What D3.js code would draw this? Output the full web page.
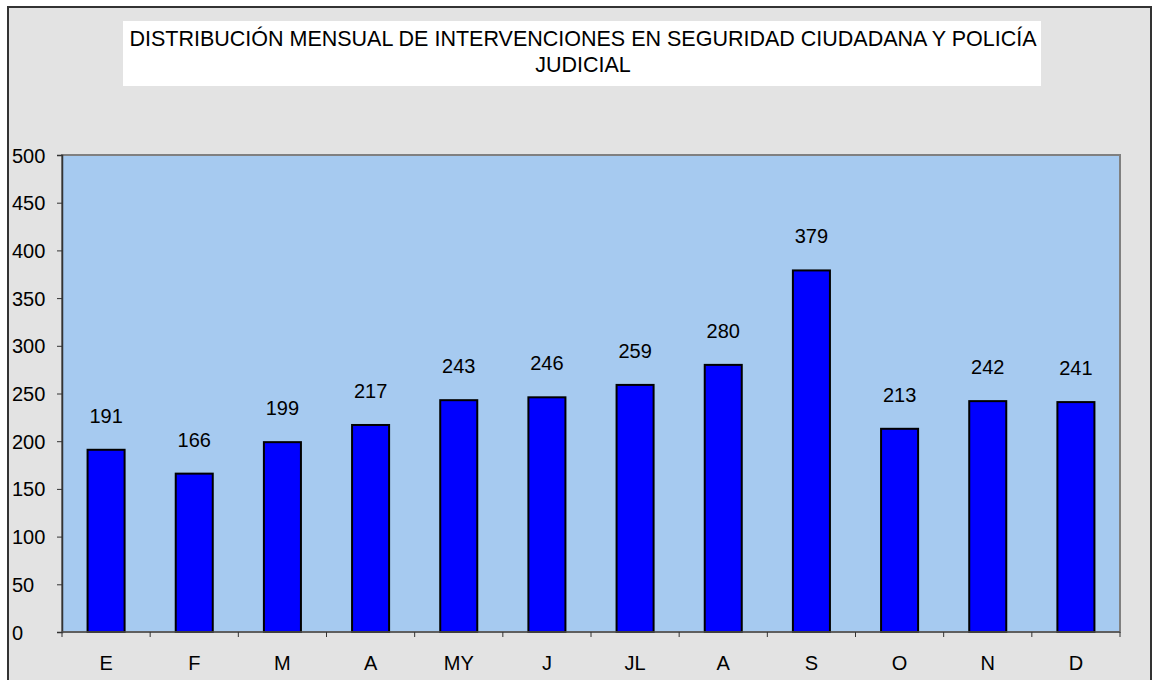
<!DOCTYPE html>
<html>
<head>
<meta charset="utf-8">
<script src="https://cdn.jsdelivr.net/npm/d3@7"></script>
<style>
  body { margin: 0; background: #fff; }
  svg { display: block; }
  text { font-family: "Liberation Sans", Arial, sans-serif; fill: #000; }
</style>
</head>
<body>
<svg id="chart"></svg>
<script>
// monthly data
let months = ["E", "F", "M", "A", "MY", "J", "JL", "A", "S", "O", "N", "D"]
let values = [191, 166, 199, 217, 243, 246, 259, 280, 379, 213, 242, 241]
let yTicks = [0, 50, 100, 150, 200, 250, 300, 350, 400, 450, 500]
let titleLines = ["DISTRIBUCIÓN MENSUAL DE INTERVENCIONES EN SEGURIDAD CIUDADANA Y POLICÍA", "JUDICIAL"]

let width = 1156
let height = 680
let fontSize = "20px"

let svg = d3.select("#chart")
    .attr("width", width)
    .attr("height", height)

// outer frame
svg.append("rect")
    .attr("x", 8).attr("y", 7)
    .attr("width", 1143).attr("height", 700)
    .attr("fill", "#e3e3e3")
    .attr("stroke", "#333")
    .attr("stroke-width", 2)

// title box
svg.append("rect")
    .attr("x", 123).attr("y", 21)
    .attr("width", 918).attr("height", 65)
    .attr("fill", "#fff")

svg.selectAll(".title").data(titleLines).enter()
    .append("text")
    .attr("class", "title")
    .attr("x", 583)
    .attr("y", (d, i) => 46 + i * 26)
    .attr("text-anchor", "middle")
    .style("font-size", "21.5px")
    .text(d => d)

let plot = {left: 62, right: 1120, top: 155, bottom: 632}

let xScale = d3.scaleBand()
    .domain(d3.range(months.length))
    .range([plot.left, plot.right])
    .paddingInner(0.58)
    .paddingOuter(0.29)

let yScale = d3.scaleLinear()
    .domain([0, 500])
    .range([plot.bottom, plot.top])

// plot background
svg.append("rect")
    .attr("x", plot.left).attr("y", plot.top)
    .attr("width", plot.right - plot.left)
    .attr("height", plot.bottom - plot.top)
    .attr("fill", "#a6caf0")
    .attr("stroke", "#808080")
    .attr("stroke-width", 2)

// bars
svg.selectAll(".bar").data(values).enter()
    .append("rect")
    .attr("class", "bar")
    .attr("x", (d, i) => xScale(i))
    .attr("y", d => yScale(d))
    .attr("width", xScale.bandwidth())
    .attr("height", d => yScale(0) - yScale(d))
    .attr("fill", "#0000ff")
    .attr("stroke", "#000")
    .attr("stroke-width", 2)

// value labels
svg.selectAll(".val").data(values).enter()
    .append("text")
    .attr("class", "val")
    .attr("x", (d, i) => xScale(i) + xScale.bandwidth() / 2)
    .attr("y", d => yScale(d) - 27)
    .attr("text-anchor", "middle")
    .style("font-size", fontSize)
    .text(d => d)

// y axis
let yAxis = d3.axisLeft(yScale)
    .tickValues(yTicks)
    .tickSize(5)

let gy = svg.append("g")
    .attr("transform", `translate(${plot.left},0)`)
    .call(yAxis)
gy.select(".domain").attr("stroke", "#333").attr("stroke-width", 1.5)
gy.selectAll(".tick line").attr("stroke", "#333")
gy.selectAll(".tick text")
    .attr("x", -50)
    .attr("dy", "0.35em")
    .attr("text-anchor", "start")
    .attr("fill", "#000")
    .style("font-size", fontSize)
    .style("font-family", "Liberation Sans, Arial, sans-serif")

// x axis: ticks at category boundaries
let step = (plot.right - plot.left) / months.length
let boundaries = d3.range(months.length + 1).map(i => plot.left + i * step)

svg.append("line")
    .attr("x1", plot.left).attr("x2", plot.right)
    .attr("y1", plot.bottom).attr("y2", plot.bottom)
    .attr("stroke", "#555").attr("stroke-width", 1.5)

svg.selectAll(".xtick").data(boundaries).enter()
    .append("line")
    .attr("class", "xtick")
    .attr("x1", d => d).attr("x2", d => d)
    .attr("y1", plot.bottom).attr("y2", plot.bottom + 5)
    .attr("stroke", "#333")

svg.selectAll(".xlab").data(months).enter()
    .append("text")
    .attr("class", "xlab")
    .attr("x", (d, i) => xScale(i) + xScale.bandwidth() / 2)
    .attr("y", 670)
    .attr("text-anchor", "middle")
    .style("font-size", fontSize)
    .text(d => d)
</script>
</body>
</html>
